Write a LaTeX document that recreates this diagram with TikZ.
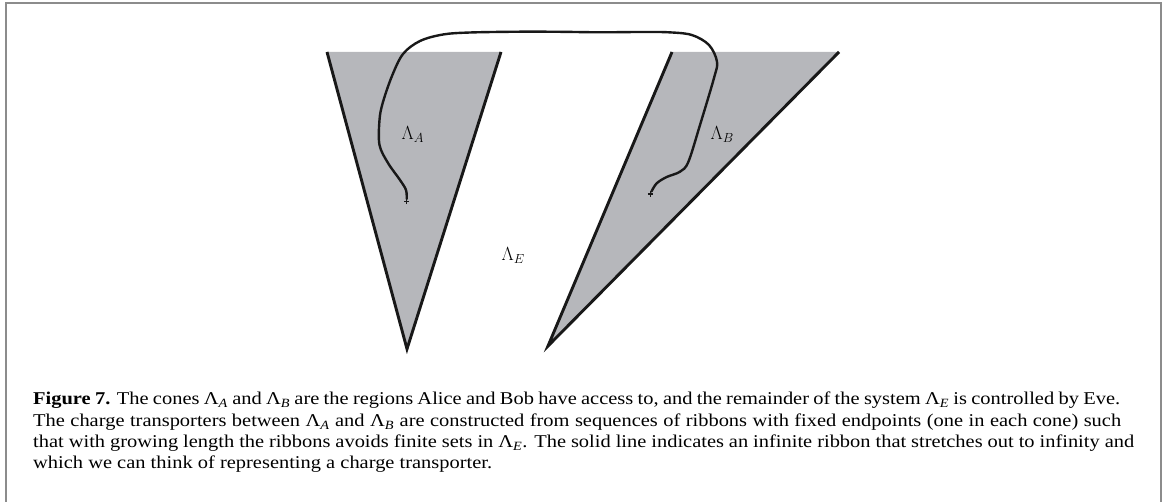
\documentclass[tikz,border=0pt]{standalone}
\usepackage{fontspec}
\setmainfont{Liberation Serif}
\newcommand{\Lsub}[1]{Λ\textsubscript{\itshape #1}}
\newcommand{\capfont}{\fontsize{18}{21}\selectfont}
\newsavebox\lastlinebox
\newdimen\lastlinewd
\definecolor{conegray}{RGB}{182,183,187}
\definecolor{framegray}{RGB}{140,140,140}
\definecolor{inkblack}{RGB}{24,24,24}
\tikzset{
  frameline/.style={draw=framegray, line width=2pt},
  coneedge/.style={draw=inkblack, line width=2.9pt, line join=miter},
  conefill/.style={fill=conegray},
  ribbon/.style={draw=inkblack, line width=2.4pt, line cap=round},
  crossmark/.style={draw=inkblack, line width=1.1pt},
  lbl/.style={inner sep=0pt, anchor=base west, font=\fontsize{17.28}{20}\selectfont},
  captext/.style={inner sep=0pt, anchor=base west, text=black, font=\capfont}
}
\begin{document}
\global\setbox\lastlinebox=\hbox{\capfont which we can think of representing a charge transporter.}%
\global\lastlinewd=\wd\lastlinebox
\pgfmathsetmacro\capsx{459/\lastlinewd}%
\pgfmathsetmacro\wA{1087/\capsx}%
\pgfmathsetmacro\wB{1088/\capsx}%
\pgfmathsetmacro\wC{1101/\capsx}%
\begin{tikzpicture}[x=1pt,y=-1pt]
\useasboundingbox (0,0) rectangle (1168,502);
% frame (open at the bottom)
\draw[frameline] (6,503) -- (6,3.5) -- (1161,3.5) -- (1161,503);
% cone A
\coordinate (A1) at (327,52);
\coordinate (A2) at (501,52);
\coordinate (A3) at (407,349);
\fill[conefill] (A1) -- (A2) -- (A3) -- cycle;
\draw[coneedge] (A1) -- (A3) -- (A2);
% cone B
\coordinate (B1) at (672,52);
\coordinate (B2) at (839,52);
\coordinate (B3) at (548,346);
\fill[conefill] (B1) -- (B2) -- (B3) -- cycle;
\draw[coneedge] (B1) -- (B3) -- (B2);
% ribbon
\coordinate (endA) at (406.7,201.5);
\coordinate (endB) at (650.5,194);
\draw[ribbon] plot[smooth, tension=0.55] coordinates {
  (406.7,199) (406,190) (400,180) (388,163) (379.5,145) (379.5,120)
  (382.7,103) (391.7,76.7) (403,54) (420,41) (443,34.5) (470,32.5)
  (520,31.7) (560,31.8) (600,32.3) (640,32) (668.6,32.3) (691.8,35)
  (709,45) (717,61.7) (714,78) (700,125) (688.3,162) (680,171.7)
  (666.7,177) (656.7,183.3) (651.5,191.5)};
\draw[crossmark] ([xshift=-2.6pt]endA) -- ([xshift=2.6pt]endA)
                 ([yshift=-2.6pt]endA) -- ([yshift=2.6pt]endA);
\draw[crossmark] ([xshift=-2.6pt]endB) -- ([xshift=2.6pt]endB)
                 ([yshift=-2.6pt]endB) -- ([yshift=2.6pt]endB);
% labels
\node[lbl] (LA) at (401.5,139.3) {\scalebox{1.1}{$\Lambda_A$}};
\node[lbl] (LB) at (710.5,139.5) {\scalebox{1.1}{$\Lambda_B$}};
\node[lbl] (LE) at (501.5,261) {\scalebox{1.1}{$\Lambda_E$}};
% caption: common horizontal scale taken from the last (unjustified) line
\node[captext] (c1) at (33,404.5) {\scalebox{\capsx}[1]{\makebox[\wA pt][s]{\textbf{Figure 7.} The cones \Lsub{A} and \Lsub{B} are the regions Alice and Bob have access to, and the remainder of the system \Lsub{E} is controlled by Eve.}}};
\node[captext] (c2) at (33,426.5) {\scalebox{\capsx}[1]{\makebox[\wB pt][s]{The charge transporters between \Lsub{A} and \Lsub{B} are constructed from sequences of ribbons with fixed endpoints (one in each cone) such}}};
\node[captext] (c3) at (33,447.5) {\scalebox{\capsx}[1]{\makebox[\wC pt][s]{that with growing length the ribbons avoids finite sets in \Lsub{E}. The solid line indicates an infinite ribbon that stretches out to infinity and}}};
\node[captext] (c4) at (33,468.5) {\scalebox{\capsx}[1]{\usebox\lastlinebox}};
\end{tikzpicture}
\end{document}
